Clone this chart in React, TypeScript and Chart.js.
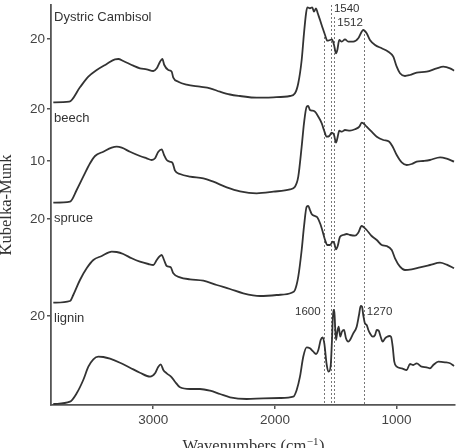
import React, { useEffect, useRef } from 'react';
import { Chart, registerables } from 'chart.js';

Chart.register(...registerables);

// ---- data (wavenumbers in cm-1, Kubelka-Munk in stacked arbitrary units) ----
const seriesNames = ['Dystric Cambisol', 'beech', 'spruce', 'lignin'];

const cambisolWn = [3821, 3690, 3602, 3533, 3464, 3382, 3314, 3287, 3246, 3164, 3109, 3054, 2999, 2971, 2944, 2925, 2909, 2876, 2848, 2835, 2794, 2725, 2616, 2533, 2451, 2369, 2287, 2150, 2013, 1876, 1835, 1808, 1780, 1761, 1744, 1734, 1712, 1693, 1679, 1662, 1648, 1629, 1607, 1588, 1569, 1547, 1531, 1514, 1498, 1487, 1471, 1451, 1424, 1397, 1356, 1315, 1287, 1274, 1246, 1219, 1177, 1122, 1068, 1027, 999, 972, 931, 890, 835, 753, 670, 616, 561, 528];
const cambisolKM = [302.7, 303.3, 317.7, 328.3, 335, 341, 345.7, 346, 344, 339.3, 336.7, 335.7, 334, 336.7, 343.3, 346, 340, 335, 333.3, 327.3, 323.3, 320.3, 318.3, 316.7, 313.3, 310.5, 309, 307.3, 307.7, 309, 311.7, 321.7, 345, 371.7, 391.7, 397.7, 396.7, 397.7, 393.3, 396.7, 391.7, 385, 376.7, 370, 364.3, 365, 365.7, 360, 351.7, 355, 365, 363.3, 365.7, 363.3, 363.3, 366.7, 373.3, 375, 371.7, 365, 360, 356.7, 353.3, 348.3, 338.3, 331.7, 329, 330, 332.3, 333.3, 336.7, 338.3, 336.7, 334.3];

const beechWn = [3821, 3684, 3629, 3575, 3519, 3478, 3410, 3341, 3300, 3259, 3191, 3109, 3054, 3012, 2985, 2958, 2930, 2911, 2889, 2862, 2840, 2821, 2780, 2698, 2588, 2506, 2396, 2287, 2150, 2013, 1876, 1835, 1808, 1780, 1761, 1739, 1726, 1712, 1689, 1671, 1643, 1615, 1597, 1574, 1553, 1533, 1514, 1498, 1484, 1471, 1451, 1424, 1383, 1342, 1306, 1287, 1274, 1246, 1205, 1163, 1109, 1060, 1032, 999, 958, 917, 876, 835, 781, 726, 643, 588, 528];
const beechKM = [202.3, 203.3, 215, 228.3, 241.7, 249, 253.3, 257.3, 258.3, 257.3, 253.3, 249, 246.7, 245, 246.7, 253.3, 255.7, 250, 245, 243.3, 241.7, 234.3, 231, 228.3, 226.7, 223.3, 217.7, 213.7, 211.7, 213.3, 215.7, 218.3, 228.3, 258.3, 281.7, 298.3, 299, 295, 294.3, 293.3, 288.3, 281.7, 275, 268.3, 269, 272.3, 270, 262.3, 268.3, 274.3, 273.3, 275, 274.3, 275.7, 278.3, 282.3, 281.7, 278.3, 273.3, 268.3, 265, 263.3, 258.3, 250, 242.7, 240, 241, 243.3, 244, 245, 247.7, 246.3, 243.3];

const spruceWn = [3821, 3684, 3657, 3602, 3547, 3492, 3423, 3341, 3300, 3246, 3177, 3109, 3040, 2999, 2971, 2950, 2930, 2911, 2889, 2856, 2835, 2780, 2698, 2588, 2478, 2369, 2260, 2122, 1985, 1862, 1835, 1808, 1780, 1761, 1739, 1726, 1712, 1698, 1671, 1652, 1629, 1607, 1588, 1569, 1547, 1525, 1512, 1498, 1484, 1465, 1438, 1410, 1383, 1342, 1315, 1287, 1274, 1246, 1205, 1163, 1122, 1081, 1040, 1013, 972, 931, 876, 808, 726, 643, 588, 528];
const spruceKM = [102.3, 104, 110, 125, 136.7, 145, 149, 153.3, 153, 151, 146.7, 143.3, 141, 140, 145, 148.3, 150, 145, 139, 137.7, 131.7, 127.7, 125.7, 124.3, 120, 116, 111.7, 109, 110, 112.3, 115, 128.3, 155, 178.3, 198.3, 199, 195, 191, 189, 187.7, 181.7, 173.3, 165, 160, 160, 163.3, 161.7, 155.7, 159, 168.3, 170, 171, 170, 169.3, 172.3, 179, 178.3, 175, 169, 165, 160, 159, 155, 146.7, 138.3, 135, 135.7, 137.7, 140, 142.3, 140.3, 136.7];

const ligninWn = [3821, 3684, 3629, 3575, 3533, 3492, 3451, 3410, 3355, 3273, 3191, 3109, 3026, 2985, 2958, 2938, 2917, 2889, 2848, 2821, 2780, 2698, 2616, 2533, 2451, 2369, 2232, 2095, 1958, 1849, 1821, 1794, 1767, 1739, 1712, 1684, 1662, 1643, 1624, 1607, 1594, 1574, 1558, 1541, 1531, 1520, 1512, 1498, 1487, 1476, 1463, 1449, 1432, 1416, 1397, 1383, 1356, 1328, 1309, 1295, 1284, 1274, 1260, 1246, 1232, 1219, 1196, 1177, 1163, 1147, 1131, 1114, 1095, 1076, 1060, 1046, 1032, 1019, 999, 958, 917, 890, 863, 835, 794, 753, 726, 698, 657, 602, 561, 528];
const ligninKM = [1, 3.3, 11.7, 25, 38.3, 45.7, 48.3, 48, 46.3, 42.3, 37.3, 32.3, 28.3, 31.7, 38.3, 40.7, 35, 31.7, 27.7, 23.3, 17.7, 16, 16, 14.3, 11, 7.7, 6, 6.7, 7, 8.3, 15, 28.3, 48.3, 57.7, 56.7, 53.3, 51, 55, 65, 67.7, 61.7, 40, 33.3, 40, 65, 95, 93.3, 65, 73.3, 78.3, 68.3, 73.3, 75, 66.7, 63.3, 65, 71.7, 78.3, 90, 99, 98.3, 90, 81.7, 80, 75, 71.7, 68.3, 70, 75, 74.3, 68.3, 63.3, 66.7, 68.3, 69, 68.3, 58.3, 43.3, 38.3, 36.7, 35, 41, 40, 41.7, 38.3, 37.7, 36.7, 40, 43.3, 42.7, 41.7, 39];

const xTickValues = [3000, 2000, 1000];
const yTickValues = [366, 296, 244, 186, 89];
const yTickLabels = ['20', '20', '10', '20', '20'];

const markerWn = [1600, 1540, 1512, 1270];

const SANS = '"Liberation Sans", Arial, sans-serif';
const SERIF = '"Liberation Serif", "Times New Roman", serif';

const overlayPlugin = {
  id: 'overlay',
  beforeDatasetsDraw(chart: any, _a: any, opts: any) {
    const { ctx, chartArea, scales } = chart;
    const x = scales.x, y = scales.y;
    ctx.save();
    ctx.strokeStyle = opts.markerColor;
    ctx.lineWidth = 1;
    ctx.setLineDash([2, 2]);
    markerWn.forEach((wn, i) => {
      const px = Math.round(x.getPixelForValue(wn)) + 0.5;
      ctx.beginPath();
      ctx.moveTo(px, y.getPixelForValue(opts.markerTops[i]));
      ctx.lineTo(px, chartArea.bottom);
      ctx.stroke();
    });
    ctx.restore();
  },
  afterDraw(chart: any, _a: any, opts: any) {
    const { ctx, chartArea, scales } = chart;
    const x = scales.x, y = scales.y;
    ctx.save();
    // series names
    ctx.fillStyle = opts.textColor;
    ctx.font = `13px ${SANS}`;
    ctx.textBaseline = 'middle';
    ctx.textAlign = 'left';
    seriesNames.forEach((name, i) => {
      ctx.fillText(name, chartArea.left + 3, y.getPixelForValue(opts.nameY[i]));
    });
    // marker labels
    ctx.font = `11.5px ${SANS}`;
    markerWn.forEach((wn, i) => {
      const px = x.getPixelForValue(wn);
      const side = opts.markerSide[i];
      ctx.textAlign = side === 'left' ? 'right' : 'left';
      ctx.fillText(String(wn), side === 'left' ? px - 3 : px + 3, y.getPixelForValue(opts.markerLabelY[i]));
    });
    // x axis title with superscript
    const main = 'Wavenumbers (cm';
    const sup = '\u22121';
    const close = ')';
    ctx.fillStyle = '#333';
    ctx.textBaseline = 'alphabetic';
    ctx.textAlign = 'left';
    const mainFont = `16.5px ${SERIF}`;
    const supFont = `11px ${SERIF}`;
    ctx.font = mainFont;
    const w1 = ctx.measureText(main).width;
    const w3 = ctx.measureText(close).width;
    ctx.font = supFont;
    const w2 = ctx.measureText(sup).width;
    const total = w1 + w2 + w3;
    const cx = (chartArea.left + chartArea.right) / 2;
    const sx = cx - total / 2;
    const base = opts.titleBaseline;
    ctx.font = mainFont;
    ctx.fillText(main, sx, base);
    ctx.font = supFont;
    ctx.fillText(sup, sx + w1 + 0.5, base - 6.5);
    ctx.font = mainFont;
    ctx.fillText(close, sx + w1 + w2 + 1, base);
    ctx.restore();
  },
};

export default function App() {
  const ref = useRef<HTMLCanvasElement>(null);
  useEffect(() => {
    if (!ref.current) return;
    const pts = (wn: number[], km: number[]) => wn.map((v, i) => ({ x: v, y: km[i] }));
    const series = [
      pts(cambisolWn, cambisolKM),
      pts(beechWn, beechKM),
      pts(spruceWn, spruceKM),
      pts(ligninWn, ligninKM),
    ];
    const chart = new Chart(ref.current, {
      type: 'line',
      data: {
        datasets: series.map((d, i) => ({
          label: seriesNames[i],
          data: d,
          borderColor: '#333333',
          borderWidth: 1.8,
          pointRadius: 0,
          fill: false,
          cubicInterpolationMode: 'monotone' as const,
        })),
      },
      options: {
        animation: false,
        responsive: true,
        maintainAspectRatio: false,
        layout: { padding: { top: 5, right: 2, left: 0, bottom: 0 } },
        plugins: {
          legend: { display: false },
          tooltip: { enabled: false },
          overlay: {
            markerColor: '#777',
            textColor: '#333',
            markerTops: [372, 400, 388, 375],
            markerLabelY: [93, 396, 382, 93],
            markerSide: ['left', 'right', 'right', 'right'],
            nameY: [388, 287, 187, 87],
            titleBaseline: 451,
          },
        } as any,
        scales: {
          x: {
            type: 'linear',
            reverse: true,
            min: 520,
            max: 3840,
            afterFit: (s: any) => { s.height = 43; s.paddingLeft = 0; s.paddingRight = 0; },
            afterBuildTicks: (s: any) => { s.ticks = xTickValues.map((v) => ({ value: v })); },
            grid: { drawOnChartArea: false, drawTicks: true, tickLength: 4, color: '#555', lineWidth: 1.5 },
            border: { display: true, color: '#555', width: 1.8 },
            ticks: {
              autoSkip: false,
              maxRotation: 0,
              padding: 3,
              color: '#444',
              font: { family: SANS, size: 13.5 },
              callback: (v: any) => String(v),
            },
          },
          y: {
            type: 'linear',
            min: 0,
            max: 400,
            afterFit: (s: any) => { s.width = 51; s.paddingTop = 0; s.paddingBottom = 0; },
            afterBuildTicks: (s: any) => { s.ticks = yTickValues.map((v) => ({ value: v })); },
            grid: { drawOnChartArea: false, drawTicks: true, tickLength: 4, color: '#555', lineWidth: 1.5 },
            border: { display: true, color: '#555', width: 1.8 },
            ticks: {
              autoSkip: false,
              padding: 2,
              color: '#444',
              font: { family: SANS, size: 13.5 },
              callback: (v: any) => {
                const i = yTickValues.indexOf(Number(v));
                return i >= 0 ? yTickLabels[i] : '';
              },
            },
            title: {
              display: true,
              text: 'Kubelka-Munk',
              color: '#333',
              font: { family: SERIF, size: 16.5, lineHeight: 1 },
              padding: { top: -2, bottom: 0 },
            },
          },
        },
      } as any,
      plugins: [overlayPlugin],
    });
    return () => chart.destroy();
  }, []);
  return (
    <div style={{ position: 'absolute', left: 0, top: 0, width: 457, height: 448, background: '#fff' }}>
      <canvas ref={ref} style={{ display: 'block' }} />
    </div>
  );
}
